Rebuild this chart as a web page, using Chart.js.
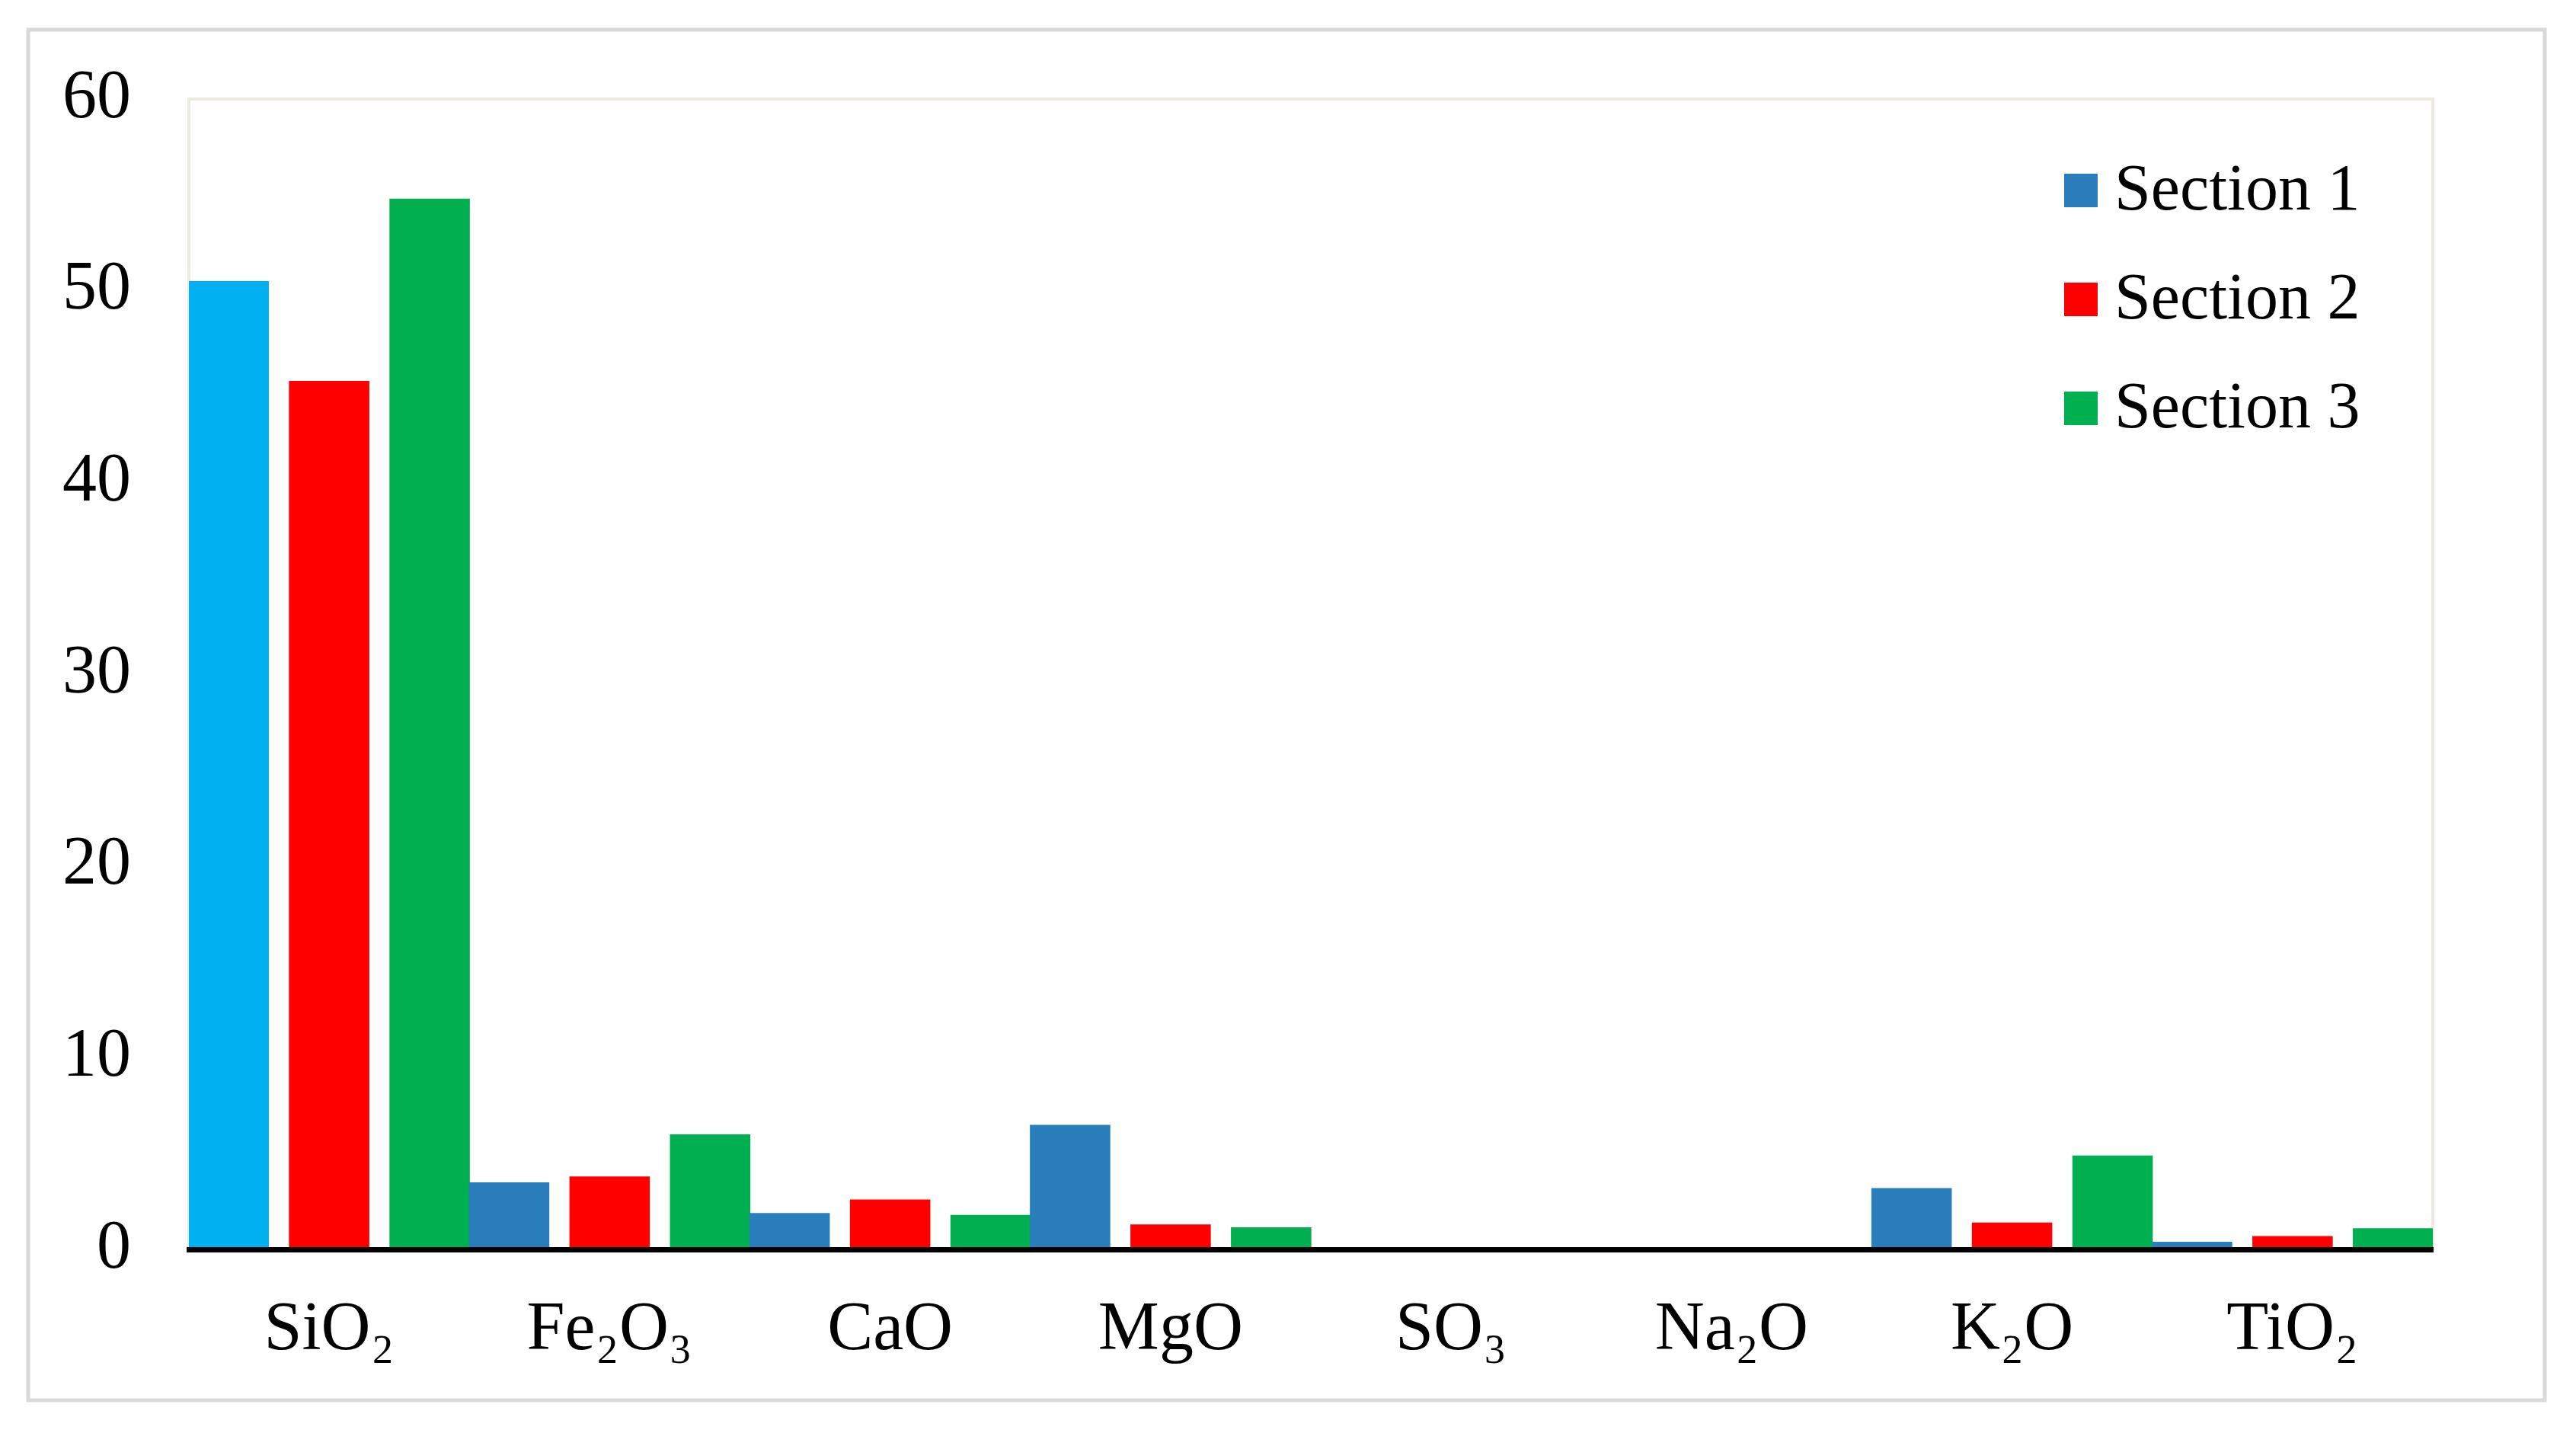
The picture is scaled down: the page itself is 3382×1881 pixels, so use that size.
<!DOCTYPE html>
<html>
<head>
<meta charset="utf-8">
<script src="https://cdn.jsdelivr.net/npm/chart.js@4.4.1/dist/chart.umd.min.js"></script>
<style>
  html, body { margin: 0; padding: 0; background: #fff; }
  canvas { display: block; }
</style>
</head>
<body>
<canvas id="chart" width="3382" height="1881"></canvas>
<script>
// oxide composition per section (%)
const oxides = ['SiO₂', 'Fe₂O₃', 'CaO', 'MgO', 'SO₃', 'Na₂O', 'K₂O', 'TiO₂'];
const sectionNames = ['Section 1', 'Section 2', 'Section 3'];
const section1 = [50.5, 3.5, 1.9, 6.5, 0, 0, 3.2, 0.4];
const section2 = [45.3, 3.8, 2.6, 1.3, 0, 0, 1.4, 0.7];
const section3 = [54.8, 6.0, 1.8, 1.15, 0, 0, 4.9, 1.1];
const yTicks = [0, 10, 20, 30, 40, 50, 60];

const sectionColors = ['#2A7EBC', '#FF0000', '#00B050'];
// the first SiO2 bar is the lighter blue in the original
const section1Colors = oxides.map((o, i) => i === 0 ? '#00B0F0' : sectionColors[0]);

const FONT = '"Liberation Serif", "Times New Roman", serif';

// grey outer box + beige plot frame
const framePlugin = {
  id: 'frames',
  beforeDraw(chart) {
    const ctx = chart.ctx;
    ctx.save();
    ctx.fillStyle = '#fff';
    ctx.fillRect(0, 0, chart.width, chart.height);
    ctx.strokeStyle = '#D9D9D9';
    ctx.lineWidth = 5;
    ctx.strokeRect(37, 39, 3304, 1799);
    ctx.restore();
  },
  beforeDatasetsDraw(chart) {
    const a = chart.chartArea;
    const ctx = chart.ctx;
    ctx.save();
    ctx.strokeStyle = '#ECEAE0';
    ctx.lineWidth = 4;
    ctx.strokeRect(a.left, a.top, a.right - a.left, a.bottom - a.top);
    ctx.restore();
  }
};

// legend stacked in the top right corner of the plot
const legendPlugin = {
  id: 'cornerLegend',
  afterDraw(chart) {
    const a = chart.chartArea;
    const ctx = chart.ctx;
    ctx.save();
    ctx.font = '86px ' + FONT;
    ctx.textBaseline = 'middle';
    sectionNames.forEach((name, i) => {
      const cy = a.top + 120 + i * 143;
      ctx.fillStyle = sectionColors[i];
      ctx.fillRect(a.right - 484, cy - 22, 44, 44);
      ctx.fillStyle = '#000';
      ctx.fillText(name, a.right - 418, cy + 2);
    });
    ctx.restore();
  }
};

new Chart(document.getElementById('chart'), {
  type: 'bar',
  data: {
    labels: oxides,
    datasets: [
      { label: sectionNames[0], data: section1, backgroundColor: section1Colors },
      { label: sectionNames[1], data: section2, backgroundColor: sectionColors[1] },
      { label: sectionNames[2], data: section3, backgroundColor: sectionColors[2] }
    ]
  },
  options: {
    responsive: false,
    animation: false,
    devicePixelRatio: 1,
    categoryPercentage: 1.075,
    barPercentage: 0.8,
    layout: { padding: { top: 126, right: 188, left: 0, bottom: 0 } },
    plugins: {
      legend: { display: false },
      tooltip: { enabled: false }
    },
    scales: {
      x: {
        grid: { display: false, drawTicks: false },
        border: { display: true, color: '#000', width: 7, z: 1 },
        ticks: { color: '#000', padding: 53, font: { family: FONT, size: 90 }, maxRotation: 0 },
        afterFit(scale) { scale.height = 241; }
      },
      y: {
        min: 0,
        max: 60,
        afterBuildTicks(scale) { scale.ticks = yTicks.map(v => ({ value: v })); },
        grid: { display: false, drawTicks: false },
        border: { display: false },
        ticks: { color: '#000', padding: 76, font: { family: FONT, size: 90 } },
        afterFit(scale) { scale.width = 248; }
      }
    }
  },
  plugins: [framePlugin, legendPlugin]
});
</script>
</body>
</html>
